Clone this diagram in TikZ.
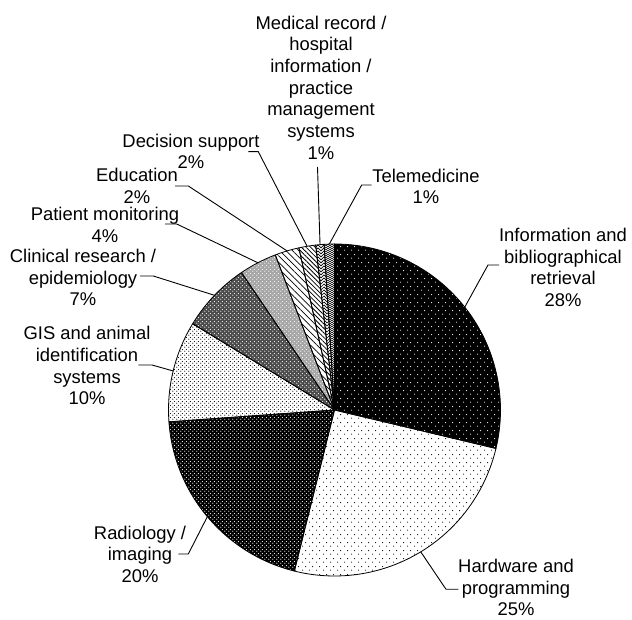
\documentclass[tikz,border=0pt]{standalone}
\usepackage{fontspec}
\setmainfont{Liberation Sans}
\usetikzlibrary{patterns,patterns.meta,calc}

\tikzdeclarepattern{
  name=bigdots,
  type=uncolored,
  bounding box={(0pt,0pt) and (7pt,8pt)},
  tile size={(7pt,8pt)},
  code={
    \pgfpathcircle{\pgfpoint{1.75pt}{2pt}}{0.6pt}
    \pgfpathcircle{\pgfpoint{5.25pt}{6pt}}{0.6pt}
    \pgfusepath{fill}
  }
}
\tikzdeclarepattern{
  name=smalldots,
  type=uncolored,
  bounding box={(0pt,0pt) and (4pt,4pt)},
  tile size={(4pt,4pt)},
  code={
    \pgfpathcircle{\pgfpoint{1pt}{1pt}}{0.7pt}
    \pgfpathcircle{\pgfpoint{3pt}{3pt}}{0.7pt}
    \pgfusepath{fill}
  }
}
\tikzdeclarepattern{
  name=chevron,
  type=uncolored,
  bounding box={(-0.5pt,-0.5pt) and (6.5pt,3.5pt)},
  tile size={(6pt,3pt)},
  code={
    \pgfsetlinewidth{0.7pt}
    \pgfpathmoveto{\pgfpoint{0pt}{3pt}}
    \pgfpathlineto{\pgfpoint{3pt}{0pt}}
    \pgfpathlineto{\pgfpoint{6pt}{3pt}}
    \pgfusepath{stroke}
  }
}
\tikzdeclarepattern{
  name=smallchevron,
  type=uncolored,
  bounding box={(-0.5pt,-0.5pt) and (4.5pt,2.5pt)},
  tile size={(4pt,2pt)},
  code={
    \pgfsetlinewidth{0.6pt}
    \pgfpathmoveto{\pgfpoint{0pt}{2pt}}
    \pgfpathlineto{\pgfpoint{2pt}{0pt}}
    \pgfpathlineto{\pgfpoint{4pt}{2pt}}
    \pgfusepath{stroke}
  }
}

\newcommand\mypieslice[3]{%
  \path[#3] (C) -- ++(#1:\R) arc[start angle=#1, end angle=#2, radius=\R] -- cycle;}

\begin{document}
\begin{tikzpicture}[x=1pt,y=1pt,
  lbl/.style={font=\fontsize{18.4}{21.7}\selectfont, align=center, inner sep=0pt},
  leader/.style={draw=black, line width=0.9pt},
  sliceline/.style={draw=black, line width=0.8pt, line join=round}]
\useasboundingbox[fill=white] (0,0) rectangle (632,620);
\coordinate (C) at (334.5,210);
\def\R{166}

% fills
\mypieslice{-13.4}{90}{preaction={fill=black}, pattern=bigdots, pattern color=white}
\mypieslice{-104}{-13.4}{preaction={fill=white}, pattern=bigdots, pattern color=black}
\mypieslice{184.1}{256}{preaction={fill=black}, pattern=smalldots, pattern color=white}
\mypieslice{148.7}{184.1}{preaction={fill=white}, pattern=smalldots, pattern color=black}
\mypieslice{124.1}{148.7}{preaction={fill=black!70}, pattern=smalldots, pattern color=white}
\mypieslice{110.9}{124.1}{preaction={fill=black!35}, pattern=smalldots, pattern color=white}
\mypieslice{102.4}{110.9}{preaction={fill=white}, pattern={Lines[angle=-45,distance=4.5pt,line width=0.7pt]}, pattern color=black}
\mypieslice{96.5}{102.4}{preaction={fill=white}, pattern={Lines[angle=-45,distance=3.2pt,line width=0.8pt]}, pattern color=black}
\mypieslice{93.6}{96.5}{preaction={fill=white}, pattern=chevron, pattern color=black}
\mypieslice{90}{93.6}{preaction={fill=white}, pattern=smallchevron, pattern color=black}

% outlines
\foreach \a/\b in {-13.4/90,-104/-13.4,184.1/256,148.7/184.1,124.1/148.7,110.9/124.1,102.4/110.9,96.5/102.4,93.6/96.5,90/93.6}{
  \mypieslice{\a}{\b}{sliceline}
}

% labels
\node[lbl] (info) at (563,352.5) {Information and\\bibliographical\\retrieval\\28\%};
\node[lbl] (hard) at (516,32.5) {Hardware and\\programming\\25\%};
\node[lbl] (radio) at (140,65.8) {Radiology /\\imaging\\20\%};
\node[lbl] (gis) at (87,254.3) {GIS and animal\\identification\\systems\\10\%};
\node[lbl] (clin) at (83,342.5) {Clinical research /\\epidemiology\\7\%};
\node[lbl] (pat) at (105,395) {Patient monitoring\\4\%};
\node[lbl] (edu) at (137,433.8) {Education\\2\%};
\node[lbl] (dec) at (191,468.6) {Decision support\\2\%};
\node[lbl] (med) at (321,532.5) {Medical record /\\hospital\\information /\\practice\\management\\systems\\1\%};
\node[lbl] (tele) at (426,433.5) {Telemedicine\\1\%};

% leader coordinates
\coordinate (infoA) at (499,355);   \coordinate (infoB) at (488,355);
\coordinate (infoP) at ($(C)+(38.3:\R)$);
\coordinate (hardA) at (458.3,30.7); \coordinate (hardB) at (446,30.7);
\coordinate (hardP) at ($(C)+(-58.7:\R)$);
\coordinate (radioA) at (178.3,66); \coordinate (radioB) at (188.3,66);
\coordinate (radioP) at ($(C)+(220:\R)$);
\coordinate (gisA) at (138.3,255);  \coordinate (gisB) at (152,255);
\coordinate (gisP) at ($(C)+(166.4:\R)$);
\coordinate (clinA) at (140,344);   \coordinate (clinB) at (153.3,344);
\coordinate (clinP) at ($(C)+(136.3:\R)$);
\coordinate (patA) at (165,396);    \coordinate (patB) at (176.7,396);
\coordinate (patP) at ($(C)+(117.5:\R)$);
\coordinate (eduA) at (175,434);    \coordinate (eduB) at (188.3,434);
\coordinate (eduP) at ($(C)+(106.6:\R)$);
\coordinate (decA) at (248.3,468.3); \coordinate (decB) at (258.3,468.3);
\coordinate (decP) at ($(C)+(99.5:\R)$);
\coordinate (medA) at (317.5,453);
\coordinate (medP) at ($(C)+(95:\R)$);
\coordinate (teleA) at (371.7,435); \coordinate (teleB) at (361.7,435);
\coordinate (teleP) at ($(C)+(91.8:\R)$);

\draw[leader] (infoA) -- (infoB) -- (infoP);
\draw[leader] (hardA) -- (hardB) -- (hardP);
\draw[leader] (radioA) -- (radioB) -- (radioP);
\draw[leader] (gisA) -- (gisB) -- (gisP);
\draw[leader] (clinA) -- (clinB) -- (clinP);
\draw[leader] (patA) -- (patB) -- (patP);
\draw[leader] (eduA) -- (eduB) -- (eduP);
\draw[leader] (decA) -- (decB) -- (decP);
\draw[leader] (medA) -- (medP);
\draw[leader] (teleA) -- (teleB) -- (teleP);
\end{tikzpicture}
\end{document}
